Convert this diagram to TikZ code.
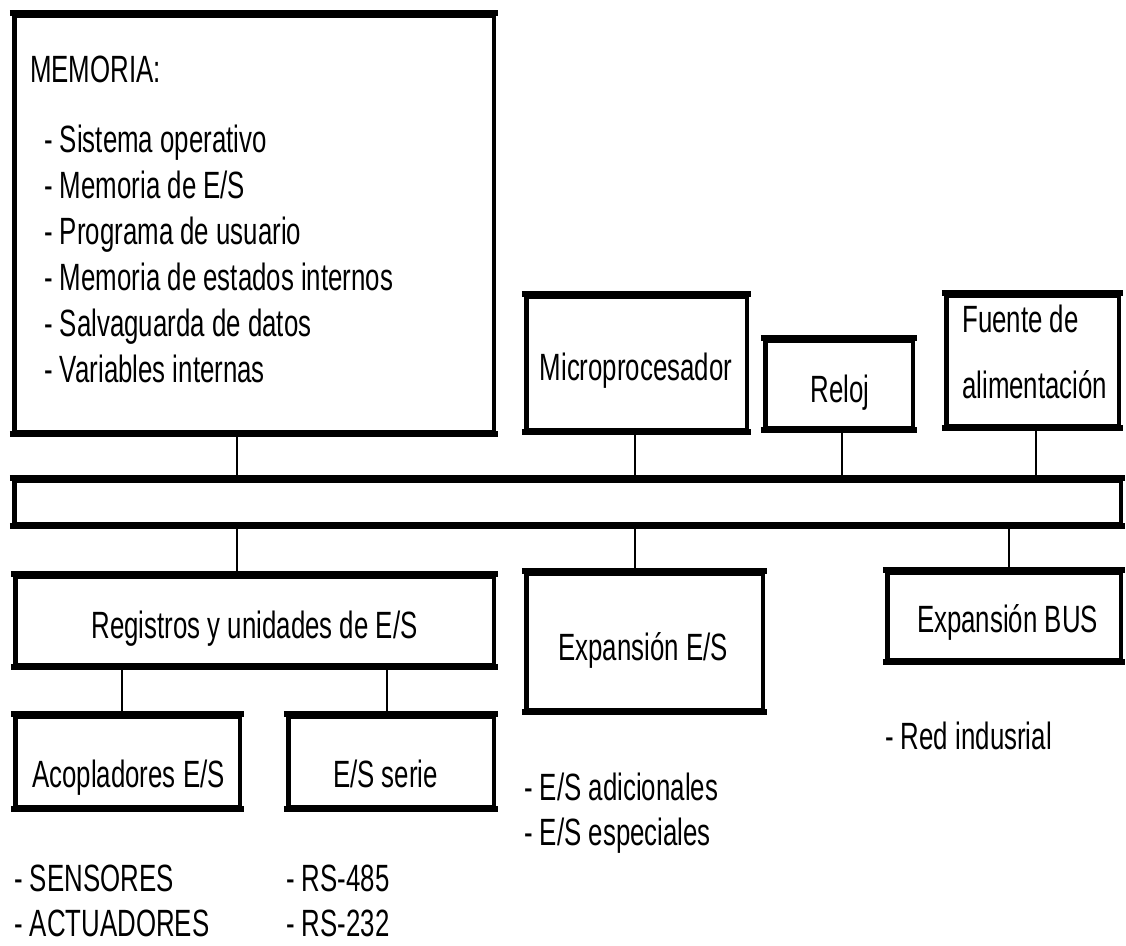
\documentclass[tikz,border=0pt]{standalone}
\usepackage{fontspec}
\setmainfont{Liberation Sans}[FakeStretch=0.68]
\begin{document}
\begin{tikzpicture}[x=1pt,y=-1pt,
  blk/.style={draw, line width=4.5pt, inner sep=0pt, rectangle},
  hedge/.style={line width=6.5pt, shorten <=-2.25pt, shorten >=-2.25pt},
  wire/.style={line width=2.2pt},
  txt/.style={inner sep=0pt, font=\fontsize{38pt}{46pt}\selectfont},
  lbl/.style={txt, anchor=base west},
  ctr/.style={txt, anchor=base}]
\useasboundingbox (0,0) rectangle (1126,945);

% blocks (centre, width, height)
\node[blk, minimum width=479.5pt, minimum height=416.5pt] (mem)   at (254,223.5) {};
\node[blk, minimum width=220.5pt, minimum height=133.5pt] (micro) at (636.5,363) {};
\node[blk, minimum width=147.5pt, minimum height=87.5pt]  (reloj) at (839,384) {};
\node[blk, minimum width=172.5pt, minimum height=130.5pt] (fuente) at (1032.5,360.5) {};
\node[blk, minimum width=1106.5pt, minimum height=43.5pt] (bus)   at (567.5,502) {};
\node[blk, minimum width=478.5pt, minimum height=88.5pt]  (reg)   at (254.5,620.5) {};
\node[blk, minimum width=236.5pt, minimum height=136.5pt] (expes) at (644.5,641.5) {};
\node[blk, minimum width=233.5pt, minimum height=87.5pt]  (expbus) at (1004,616) {};
\node[blk, minimum width=224.5pt, minimum height=90.5pt]  (acop)  at (127.5,761.5) {};
\node[blk, minimum width=205.5pt, minimum height=90.5pt]  (serie) at (391,761.5) {};

% heavier top and bottom edges
\foreach \n in {mem,micro,reloj,fuente,bus,reg,expes,expbus,acop,serie}{
  \draw[hedge] (\n.north west) -- (\n.north east);
  \draw[hedge] (\n.south west) -- (\n.south east);
}

% x positions of the connectors
\coordinate (cMem)   at (237,0);
\coordinate (cMicro) at (635,0);
\coordinate (cReloj) at (842,0);
\coordinate (cFuen)  at (1036,0);
\coordinate (cBus)   at (1009,0);
\coordinate (cAcop)  at (122,0);
\coordinate (cSerie) at (387,0);

% connectors to the bus
\draw[wire] (mem.south -| cMem)      -- (bus.north -| cMem);
\draw[wire] (micro.south -| cMicro)  -- (bus.north -| cMicro);
\draw[wire] (reloj.south -| cReloj)  -- (bus.north -| cReloj);
\draw[wire] (fuente.south -| cFuen)  -- (bus.north -| cFuen);
\draw[wire] (bus.south -| cMem)      -- (reg.north -| cMem);
\draw[wire] (bus.south -| cMicro)    -- (expes.north -| cMicro);
\draw[wire] (bus.south -| cBus)      -- (expbus.north -| cBus);
\draw[wire] (reg.south -| cAcop)     -- (acop.north -| cAcop);
\draw[wire] (reg.south -| cSerie)    -- (serie.north -| cSerie);

% memory contents
\node[lbl] (tMem) at (30,82) {MEMORIA:};
\node[lbl] (m1) at (44,152) {- Sistema operativo};
\node[lbl] (m2) at (44,198) {- Memoria de E/S};
\node[lbl] (m3) at (44,244) {- Programa de usuario};
\node[lbl] (m4) at (44,290) {- Memoria de estados internos};
\node[lbl] (m5) at (44,336) {- Salvaguarda de datos};
\node[lbl] (m6) at (44,382) {- Variables internas};

% block titles
\node[ctr] (tMicro) at (636,380) {Microprocesador};
\node[ctr] (tReloj) at (840,402) {Reloj};
\node[lbl] (tF1) at (962,332) {Fuente de};
\node[lbl] (tF2) at (962,398) {alimentación};
\node[ctr] (tReg) at (254.5,638) {Registros y unidades de E/S};
\node[ctr] (tExpES) at (643,660) {Expansión E/S};
\node[ctr] (tExpBus) at (1007.5,632) {Expansión BUS};
\node[ctr] (tAcop) at (128.5,787) {Acopladores E/S};
\node[ctr] (tSerie) at (385.5,787) {E/S serie};

% notes under the blocks
\node[lbl] (nRed) at (885,749) {- Red indusrial};
\node[lbl] (nAd) at (524,800) {- E/S adicionales};
\node[lbl] (nEsp) at (524,845) {- E/S especiales};
\node[lbl] (nSen) at (14,891) {- SENSORES};
\node[lbl] (nAct) at (14,936) {- ACTUADORES};
\node[lbl] (nR485) at (286,891) {- RS-485};
\node[lbl] (nR232) at (286,936) {- RS-232};
\end{tikzpicture}
\end{document}
